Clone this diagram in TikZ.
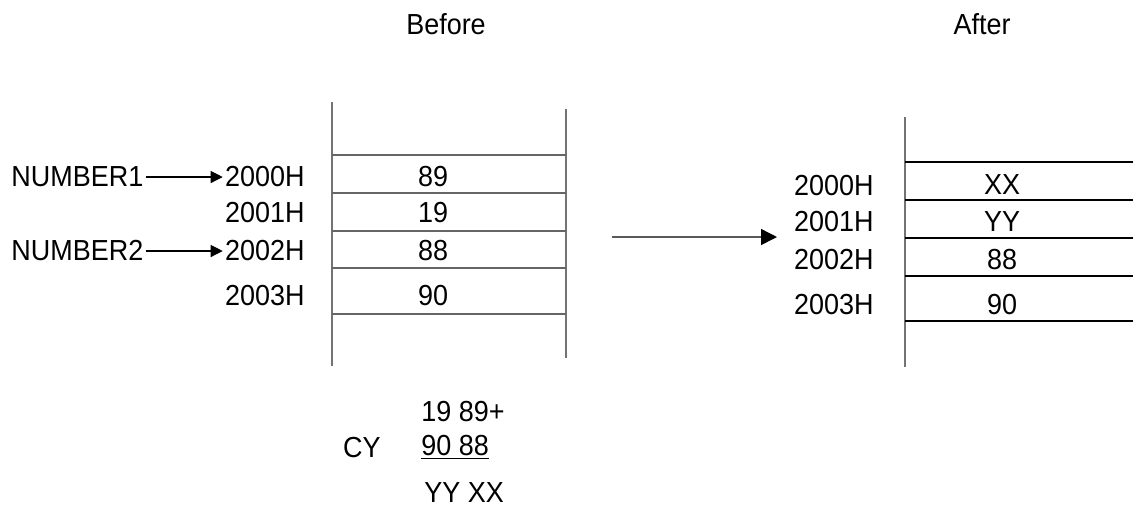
\documentclass[tikz,border=0pt]{standalone}
\usepackage{fontspec}
\setmainfont{Liberation Sans}[FakeStretch=0.93]
\usetikzlibrary{arrows.meta}
\tikzset{
  txt/.style={inner sep=1pt, font=\fontsize{14.5}{16}\selectfont},
  wall/.style={draw=black!55, line width=0.9pt},
  cell/.style={line width=0.8pt},
  ptr/.style={-{Triangle[length=6pt,width=6pt,black]}, line width=0.6pt},
}
\begin{document}
\begin{tikzpicture}[x=0.5pt,y=-0.5pt]
\useasboundingbox (0,0) rectangle (1133,511);
% headings
\node[txt] (before) at (446,24) {Before};
\node[txt] (after) at (982,24) {After};
% memory before
\draw[wall] (332,102) -- (332,366);
\draw[wall] (566,109) -- (566,358);
\draw[cell,black!60] (332,155) -- (566,155);
\draw[cell,black!60] (332,193) -- (566,193);
\draw[cell,black!60] (332,231) -- (566,231);
\draw[cell,black!60] (332,268) -- (566,268);
\draw[cell,black!60] (332,314) -- (566,314);
\node[txt] (b89) at (433,177) {89};
\node[txt] (b19) at (433,213) {19};
\node[txt] (b88) at (433,251) {88};
\node[txt] (b90) at (433,296) {90};
\node[txt,anchor=east] (a2000) at (307,177) {2000H};
\node[txt,anchor=east] (a2001) at (307,213) {2001H};
\node[txt,anchor=east] (a2002) at (307,251) {2002H};
\node[txt,anchor=east] (a2003) at (307,296) {2003H};
\node[txt,anchor=west] (num1) at (9,177) {NUMBER1};
\node[txt,anchor=west] (num2) at (9,251) {NUMBER2};
\draw[ptr] (num1) -- (a2000);
\draw[ptr] (num2) -- (a2002);
% step arrow
\coordinate (from) at (612,237);
\coordinate (to) at (777,237);
\draw[-{Triangle[length=8pt,width=8pt,black]},line width=0.7pt,black!65] (from) -- (to);
% memory after
\draw[wall] (905,117) -- (905,367);
\draw[cell] (905,162) -- (1133,162);
\draw[cell] (905,200) -- (1133,200);
\draw[cell] (905,238) -- (1133,238);
\draw[cell] (905,276) -- (1133,276);
\draw[cell] (905,321) -- (1133,321);
\node[txt] (xx) at (1002,185) {XX};
\node[txt] (yy) at (1002,222) {YY};
\node[txt] (c88) at (1002,260) {88};
\node[txt] (c90) at (1002,305) {90};
\node[txt,anchor=east] (r2000) at (876,186) {2000H};
\node[txt,anchor=east] (r2001) at (876,222) {2001H};
\node[txt,anchor=east] (r2002) at (876,260) {2002H};
\node[txt,anchor=east] (r2003) at (876,305) {2003H};
% addition
\node[txt,anchor=west] (sum1) at (419,411) {19 89+};
\node[txt,anchor=east] (cy) at (383,447) {CY};
\node[txt,anchor=west] (sum2) at (419,447) {\underline{90 88}};
\node[txt,anchor=west] (res) at (422,493) {YY XX};
\end{tikzpicture}
\end{document}
